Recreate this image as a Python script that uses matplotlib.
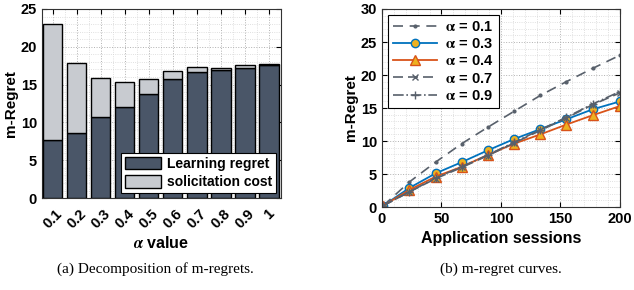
import matplotlib.pyplot as plt
import numpy as np
from matplotlib.ticker import AutoMinorLocator

plt.rcParams['font.family'] = ['Liberation Sans', 'DejaVu Sans']
plt.rcParams['font.weight'] = 'bold'
plt.rcParams['mathtext.fontset'] = 'stix'

# left panel: decomposition
alphas = ['0.1', '0.2', '0.3', '0.4', '0.5', '0.6', '0.7', '0.8', '0.9', '1']
learning = [7.7, 8.65, 10.7, 12.1, 13.8, 15.7, 16.7, 16.9, 17.25, 17.65]
total = [23.0, 17.8, 15.9, 15.35, 15.75, 16.8, 17.3, 17.15, 17.55, 17.72]
solicit = [t - l for t, l in zip(total, learning)]

# right panel: m-regret curves
sessions = [1, 23, 45, 67, 89, 111, 133, 155, 177, 200]
r01 = [0.2, 3.8, 6.8, 9.6, 12.1, 14.5, 16.9, 19.0, 21.0, 23.0]
r03 = [0.2, 2.9, 5.1, 6.8, 8.6, 10.3, 11.8, 13.3, 14.8, 16.0]
r04 = [0.2, 2.6, 4.6, 6.1, 7.9, 9.6, 11.0, 12.5, 13.9, 15.3]
r07 = [0.2, 2.3, 4.3, 6.0, 7.8, 9.7, 11.6, 13.5, 15.5, 17.3]
r09 = [0.2, 2.3, 4.4, 6.1, 7.9, 9.8, 11.7, 13.6, 15.6, 17.5]

dark = '#4a5668'
light = '#c8cbd0'
gray = '#58606b'

fig = plt.figure(figsize=(6.34, 2.9), dpi=100)

def style(ax):
    ax.minorticks_on()
    ax.grid(True, which='major', linestyle=':', color='#b0b0b0', linewidth=0.7)
    ax.grid(True, which='minor', linestyle=':', color='#d6d6d6', linewidth=0.6)
    ax.set_axisbelow(True)
    ax.tick_params(which='both', direction='in', top=True, right=True, labelsize=10.5)
    ax.tick_params(which='minor', length=0)
    for s in ax.spines.values():
        s.set_linewidth(0.8)
        s.set_color('#333333')

ax1 = fig.add_axes([0.0662, 0.317, 0.377, 0.652])
x = np.arange(len(alphas))
ax1.bar(x, learning, 0.8, color=dark, edgecolor='black', linewidth=1.0,
        label='Learning regret', zorder=3)
ax1.bar(x, solicit, 0.8, bottom=learning, color=light, edgecolor='black',
        linewidth=1.0, label='solicitation cost', zorder=3)
ax1.set_xlim(-0.45, 9.5)
ax1.set_ylim(0, 25)
ax1.set_yticks([0, 5, 10, 15, 20, 25])
ax1.set_xticks(x)
ax1.set_xticklabels(alphas, rotation=45)
style(ax1)
ax1.tick_params(axis='x', pad=6)
ax1.xaxis.set_minor_locator(AutoMinorLocator(2))
ax1.set_ylabel('m-Regret', fontsize=11, fontweight='bold', labelpad=2)
ax1.set_xlabel(r'$\alpha$ value', fontsize=11.5, fontweight='bold', labelpad=3)
leg1 = ax1.legend(loc='lower right', fontsize=10, frameon=True, fancybox=False,
                  edgecolor='black', framealpha=1, borderaxespad=0.35,
                  handlelength=2.6, handleheight=1.0, labelspacing=0.3,
                  borderpad=0.3, handletextpad=0.4)
leg1.get_frame().set_linewidth(0.8)

ax2 = fig.add_axes([0.6025, 0.286, 0.3754, 0.683])
ax2.plot(sessions, r01, linestyle=(0, (6, 4)), color=gray, linewidth=1.2,
         marker='.', markersize=4, label=r'$\mathbf{\alpha}$ = 0.1')
ax2.plot(sessions, r03, color='#0072BD', linewidth=1.3, marker='o',
         markersize=6, markerfacecolor='#EDB120', markeredgecolor='#0072BD',
         label=r'$\mathbf{\alpha}$ = 0.3')
ax2.plot(sessions, r04, color='#D95319', linewidth=1.3, marker='^',
         markersize=6.5, markerfacecolor='#EDB120', markeredgecolor='#D95319',
         label=r'$\mathbf{\alpha}$ = 0.4')
ax2.plot(sessions, r07, linestyle=(0, (6, 3)), color=gray, linewidth=1.2,
         marker='x', markersize=5, label=r'$\mathbf{\alpha}$ = 0.7')
ax2.plot(sessions, r09, linestyle='-.', color=gray, linewidth=1.2,
         marker='+', markersize=6, label=r'$\mathbf{\alpha}$ = 0.9')
ax2.set_xlim(0, 200)
ax2.set_ylim(0, 30)
ax2.set_xticks([0, 50, 100, 150, 200])
ax2.set_yticks([0, 5, 10, 15, 20, 25, 30])
style(ax2)
ax2.set_ylabel('m-Regret', fontsize=11, fontweight='bold', labelpad=2)
ax2.set_xlabel('Application sessions', fontsize=11.5, fontweight='bold', labelpad=4)
leg2 = ax2.legend(loc='upper left', fontsize=10.5, frameon=True, fancybox=False,
                  edgecolor='black', framealpha=1, borderaxespad=0.4,
                  handlelength=3.0, labelspacing=0.22, borderpad=0.35,
                  handletextpad=0.6)
leg2.get_frame().set_linewidth(0.8)

fig.text(0.245, 0.06, '(a) Decomposition of m-regrets.', ha='center',
         fontsize=11, family='Liberation Serif', fontweight='normal')
fig.text(0.79, 0.06, '(b) m-regret curves.', ha='center',
         fontsize=11, family='Liberation Serif', fontweight='normal')

fig.savefig('out.png', dpi=100)
